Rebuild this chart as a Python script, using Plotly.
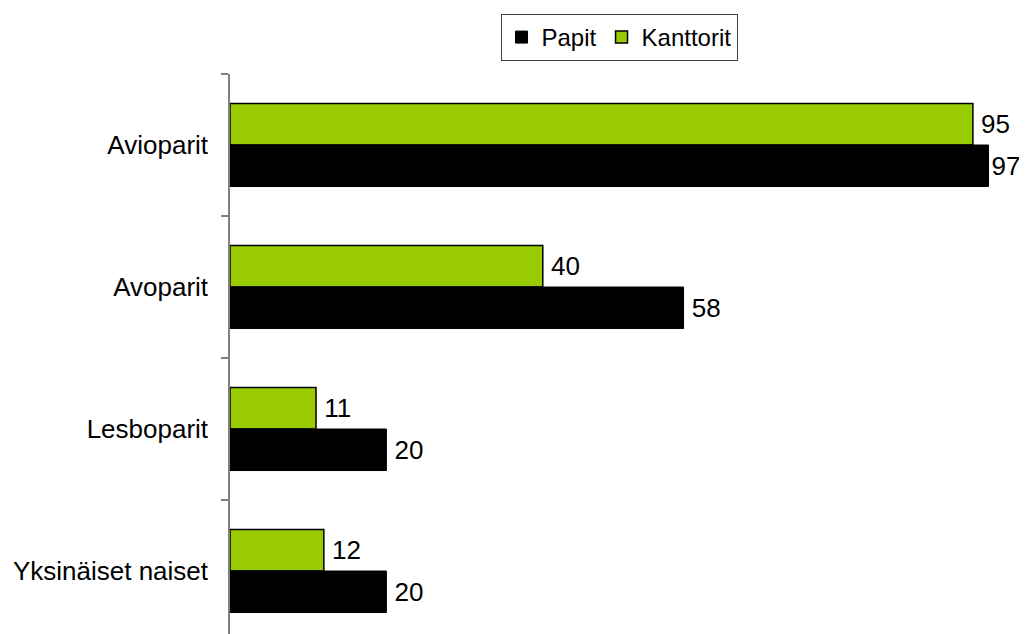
import plotly.graph_objects as go

categories = ["Avioparit", "Avoparit", "Lesboparit", "Yksinäiset naiset"]
papit = [97, 58, 20, 20]
kanttorit = [95, 40, 11, 12]

font_family = "Liberation Sans, Arial, sans-serif"
label_size = 26

# page body has an 8px default margin; size the figure to fill the rest
W, H = 1019, 626

# a thin space before each value label; the longest bar's label is kept tight so it fits
gap = "\u2009"
papit_tpl = [("%{x}" if v >= 90 else gap + "%{x}") for v in papit]

fig = go.Figure()
fig.add_trace(go.Bar(
    name="Kanttorit", y=categories, x=kanttorit, orientation="h",
    marker=dict(color="#99CC00", line=dict(color="#000000", width=1.5)),
    text=kanttorit, texttemplate=gap + "%{x}", textposition="outside",
    cliponaxis=False, constraintext="none",
    textfont=dict(size=label_size, color="#000000", family=font_family),
    legendrank=2,
))
fig.add_trace(go.Bar(
    name="Papit", y=categories, x=papit, orientation="h",
    marker=dict(color="#000000", line=dict(color="#000000", width=1)),
    text=papit, texttemplate=papit_tpl, textposition="outside",
    cliponaxis=False, constraintext="none",
    textfont=dict(size=label_size, color="#000000", family=font_family),
    legendrank=1,
))

n_px_cat = 142
top = 66
plot_h = H - top
fig.update_layout(
    width=W, height=H,
    margin=dict(l=222, r=15, t=top, b=0, autoexpand=False),
    paper_bgcolor="white", plot_bgcolor="white",
    barmode="group", bargap=0.415, bargroupgap=0,
    font=dict(family=font_family, size=label_size, color="#000000"),
    showlegend=True,
    legend=dict(
        orientation="h", xref="container", yref="container",
        x=611 / W, xanchor="center", y=1 - 6 / H, yanchor="top",
        bordercolor="#404040", borderwidth=1,
        font=dict(size=24, family=font_family),
        itemwidth=30, tracegroupgap=0,
    ),
    xaxis=dict(visible=False, range=[0, 100]),
    yaxis=dict(
        type="category", categoryorder="array", categoryarray=categories,
        range=[-0.5 + plot_h / n_px_cat, -0.5],
        showline=True, linecolor="#808080", linewidth=1.5,
        ticks="outside", tickson="boundaries", ticklen=7, tickcolor="#808080",
        tickwidth=1.5, showgrid=False, zeroline=False,
        tickfont=dict(size=label_size, family=font_family, color="#000000"),
        ticklabelstandoff=15,
    ),
)
fig.write_html("out.html")
